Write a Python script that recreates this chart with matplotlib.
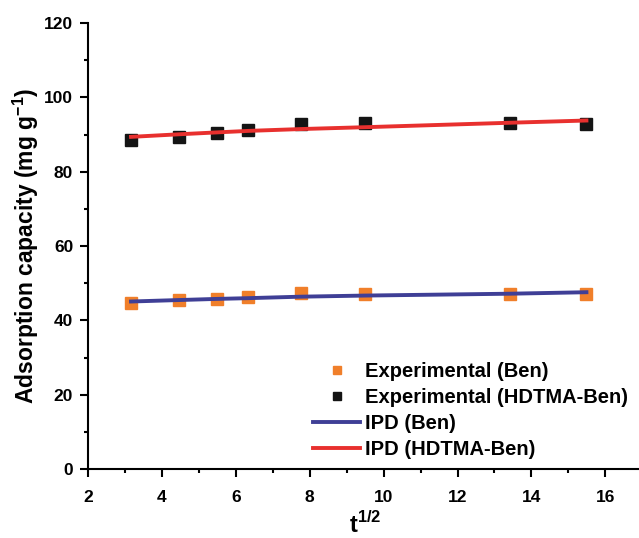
import matplotlib
matplotlib.use("Agg")
import matplotlib.pyplot as plt
from matplotlib.ticker import MultipleLocator

# === DATA ===
t_half = [3.16, 4.47, 5.48, 6.32, 7.75, 9.49, 13.42, 15.49]
exp_ben = [44.7, 45.4, 45.8, 46.3, 47.3, 47.2, 47.2, 47.1]
exp_hdtma = [88.5, 89.4, 90.5, 91.3, 92.9, 93.2, 93.0, 92.9]
ipd_ben = [45.1, 45.5, 45.8, 46.0, 46.4, 46.7, 47.2, 47.6]
ipd_hdtma = [89.4, 90.1, 90.6, 91.0, 91.5, 92.0, 93.2, 93.8]

plt.rcParams['font.family'] = ['Liberation Sans', 'DejaVu Sans']
plt.rcParams['font.weight'] = 'bold'
plt.rcParams['mathtext.fontset'] = 'custom'
plt.rcParams['mathtext.rm'] = 'Liberation Sans:bold'
plt.rcParams['mathtext.bf'] = 'Liberation Sans:bold'

# === PLOT ===
fig = plt.figure(figsize=(6.39, 5.38), dpi=100)
ax = fig.add_axes([0.138, 0.128, 0.867, 0.829])

ax.plot(t_half, exp_ben, 's', color='#F07F2A', markersize=8.5, label='Experimental (Ben)', zorder=2)
ax.plot(t_half, exp_hdtma, 's', color='#141414', markersize=8.5, label='Experimental (HDTMA-Ben)', zorder=2)
ax.plot(t_half, ipd_ben, '-', color='#3F3F96', linewidth=2.8, label='IPD (Ben)', zorder=3)
ax.plot(t_half, ipd_hdtma, '-', color='#E8302E', linewidth=2.8, label='IPD (HDTMA-Ben)', zorder=3)

ax.set_xlim(2, 17)
ax.set_ylim(0, 120)
ax.xaxis.set_major_locator(MultipleLocator(2))
ax.xaxis.set_minor_locator(MultipleLocator(1))
ax.yaxis.set_major_locator(MultipleLocator(20))
ax.yaxis.set_minor_locator(MultipleLocator(10))

ax.spines['top'].set_visible(False)
ax.spines['right'].set_visible(False)
for s in ['left', 'bottom']:
    ax.spines[s].set_linewidth(1.5)
ax.tick_params(which='major', direction='out', length=5.8, width=1.5, labelsize=12.5)
ax.tick_params(which='minor', direction='out', length=3.2, width=1.5)
ax.tick_params(axis='x', which='major', pad=9)
ax.tick_params(axis='y', which='major', pad=5)
for lbl in ax.get_xticklabels() + ax.get_yticklabels():
    lbl.set_fontweight('bold')

ax.set_xlabel('t$^{\\mathbf{1/2}}$', fontsize=17, fontweight='bold', labelpad=5)
ax.set_ylabel('Adsorption capacity (mg g$^{\\mathbf{-1}}$)', fontsize=16.5, fontweight='bold', labelpad=2)

leg = ax.legend(loc='upper left', bbox_to_anchor=(0.49, 0.327), bbox_transform=fig.transFigure,
                frameon=False, fontsize=14.5, borderpad=0, borderaxespad=0,
                handlelength=2.33, handletextpad=0.25, labelspacing=0.35, markerscale=0.75)

fig.savefig('out.png', dpi=100)
